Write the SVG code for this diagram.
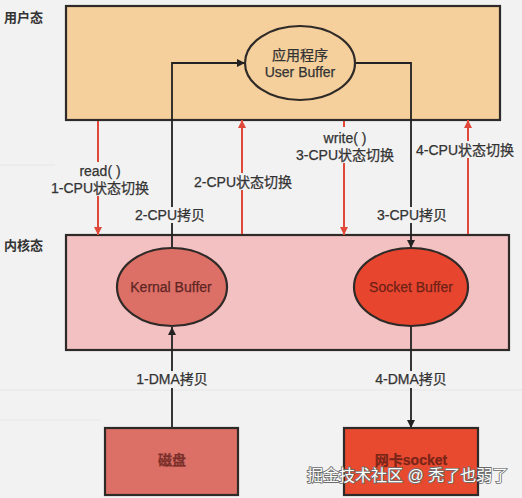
<svg xmlns="http://www.w3.org/2000/svg" width="522" height="498" viewBox="0 0 522 498">
<style>
text{font-family:"Liberation Sans","Noto Sans CJK SC",sans-serif;}
.lbl{font-size:14px;fill:#333;text-anchor:middle;stroke:#333;stroke-width:0.25;}
.side{font-size:13px;fill:#333;font-weight:bold;}
.box{stroke:#2e2a28;stroke-width:2.2;}
.blk{fill:none;stroke:#222;stroke-width:1.8;}
.red{fill:none;stroke:#e0493a;stroke-width:2;}
.bg{fill:#f2f2f2;}
</style>
<defs>
<marker id="ab" viewBox="0 0 10 10" refX="10" refY="5" markerWidth="8" markerHeight="8" orient="auto" markerUnits="userSpaceOnUse"><path d="M0,0 L10,5 L0,10 z" fill="#222"/></marker>
<marker id="ar" viewBox="0 0 10 10" refX="10" refY="5" markerWidth="8" markerHeight="8" orient="auto" markerUnits="userSpaceOnUse"><path d="M0,0 L10,5 L0,10 z" fill="#e0493a"/></marker>
</defs>
<rect width="522" height="498" fill="#f2f2f2"/>
<g stroke="#e6e6e6" stroke-width="1">
<line x1="0" y1="165" x2="60" y2="165"/><line x1="0" y1="390" x2="522" y2="390"/><line x1="0" y1="420" x2="100" y2="420"/>
</g>
<g id="user-space">
<rect class="box" x="66" y="6" width="434" height="114" fill="#f5cf9c"/>
<text class="side" x="4" y="22">用户态</text>
</g>
<g id="kernel-space">
<rect class="box" x="66" y="235" width="443" height="115" fill="#f3c1c1"/>
<text class="side" x="4" y="250">内核态</text>
</g>
<g id="connectors">
<path class="blk" d="M172,248 V63 H245" marker-end="url(#ab)"/>
<path class="blk" d="M355,63 H411 V248" marker-end="url(#ab)"/>
<path class="blk" d="M172,428 V327" marker-end="url(#ab)"/>
<path class="blk" d="M411,326 V428" marker-end="url(#ab)"/>
<path class="red" d="M98,121 V235" marker-end="url(#ar)"/>
<path class="red" d="M242,234 V120" marker-end="url(#ar)"/>
<path class="red" d="M344,121 V235" marker-end="url(#ar)"/>
<path class="red" d="M468,234 V120" marker-end="url(#ar)"/>
<rect class="bg" x="55" y="162" width="92" height="34"/>
<text class="lbl" x="100" y="176">read( )</text>
<text class="lbl" x="100" y="193">1-CPU状态切换</text>
<rect class="bg" x="193" y="173" width="98" height="17"/>
<text class="lbl" x="243" y="187">2-CPU状态切换</text>
<rect class="bg" x="295" y="127" width="100" height="36"/>
<text class="lbl" x="345" y="143">write( )</text>
<text class="lbl" x="345" y="160">3-CPU状态切换</text>
<rect class="bg" x="416" y="141" width="104" height="17"/>
<text class="lbl" x="465" y="155">4-CPU状态切换</text>
<rect class="bg" x="134" y="207" width="72" height="16"/>
<text class="lbl" x="170" y="220">2-CPU拷贝</text>
<rect class="bg" x="375" y="207" width="74" height="16"/>
<text class="lbl" x="412" y="220">3-CPU拷贝</text>
<rect class="bg" x="134" y="371" width="76" height="17"/>
<text class="lbl" x="172" y="384">1-DMA拷贝</text>
<rect class="bg" x="372" y="371" width="78" height="17"/>
<text class="lbl" x="411" y="384">4-DMA拷贝</text>
</g>
<g id="user-buffer">
<ellipse class="box" cx="300" cy="63" rx="55" ry="37" fill="#f5cf9c"/>
<text class="lbl" x="300" y="60">应用程序</text>
<text class="lbl" x="300" y="77">User Buffer</text>
</g>
<g id="kernel-buffer">
<ellipse class="box" cx="172" cy="287" rx="55" ry="39" fill="#dc6f66"/>
<text class="lbl" x="171" y="292" style="fill:#5e2523;stroke:#5e2523">Kernal Buffer</text>
</g>
<g id="socket-buffer">
<ellipse class="box" cx="411" cy="287" rx="57" ry="39" fill="#e8452f"/>
<text class="lbl" x="411" y="292" style="fill:#6e2216;stroke:#6e2216">Socket Buffer</text>
</g>
<g id="disk">
<rect class="box" x="105" y="428" width="133" height="67" fill="#dc6f66"/>
<text class="lbl" x="172" y="465" style="fill:#7a2f2a;stroke:#7a2f2a;font-weight:bold">磁盘</text>
</g>
<g id="nic">
<rect class="box" x="344" y="428" width="134" height="67" fill="#e84a30"/>
<text class="lbl" x="411" y="465" style="fill:#7a2518;stroke:#7a2518;font-weight:bold">网卡socket</text>
</g>
<text x="307" y="481" style="font-size:16px;fill:#fff;stroke:#6a6a6a;stroke-width:1.6;paint-order:stroke">掘金技术社区 @ 秃了也弱了</text>
</svg>
